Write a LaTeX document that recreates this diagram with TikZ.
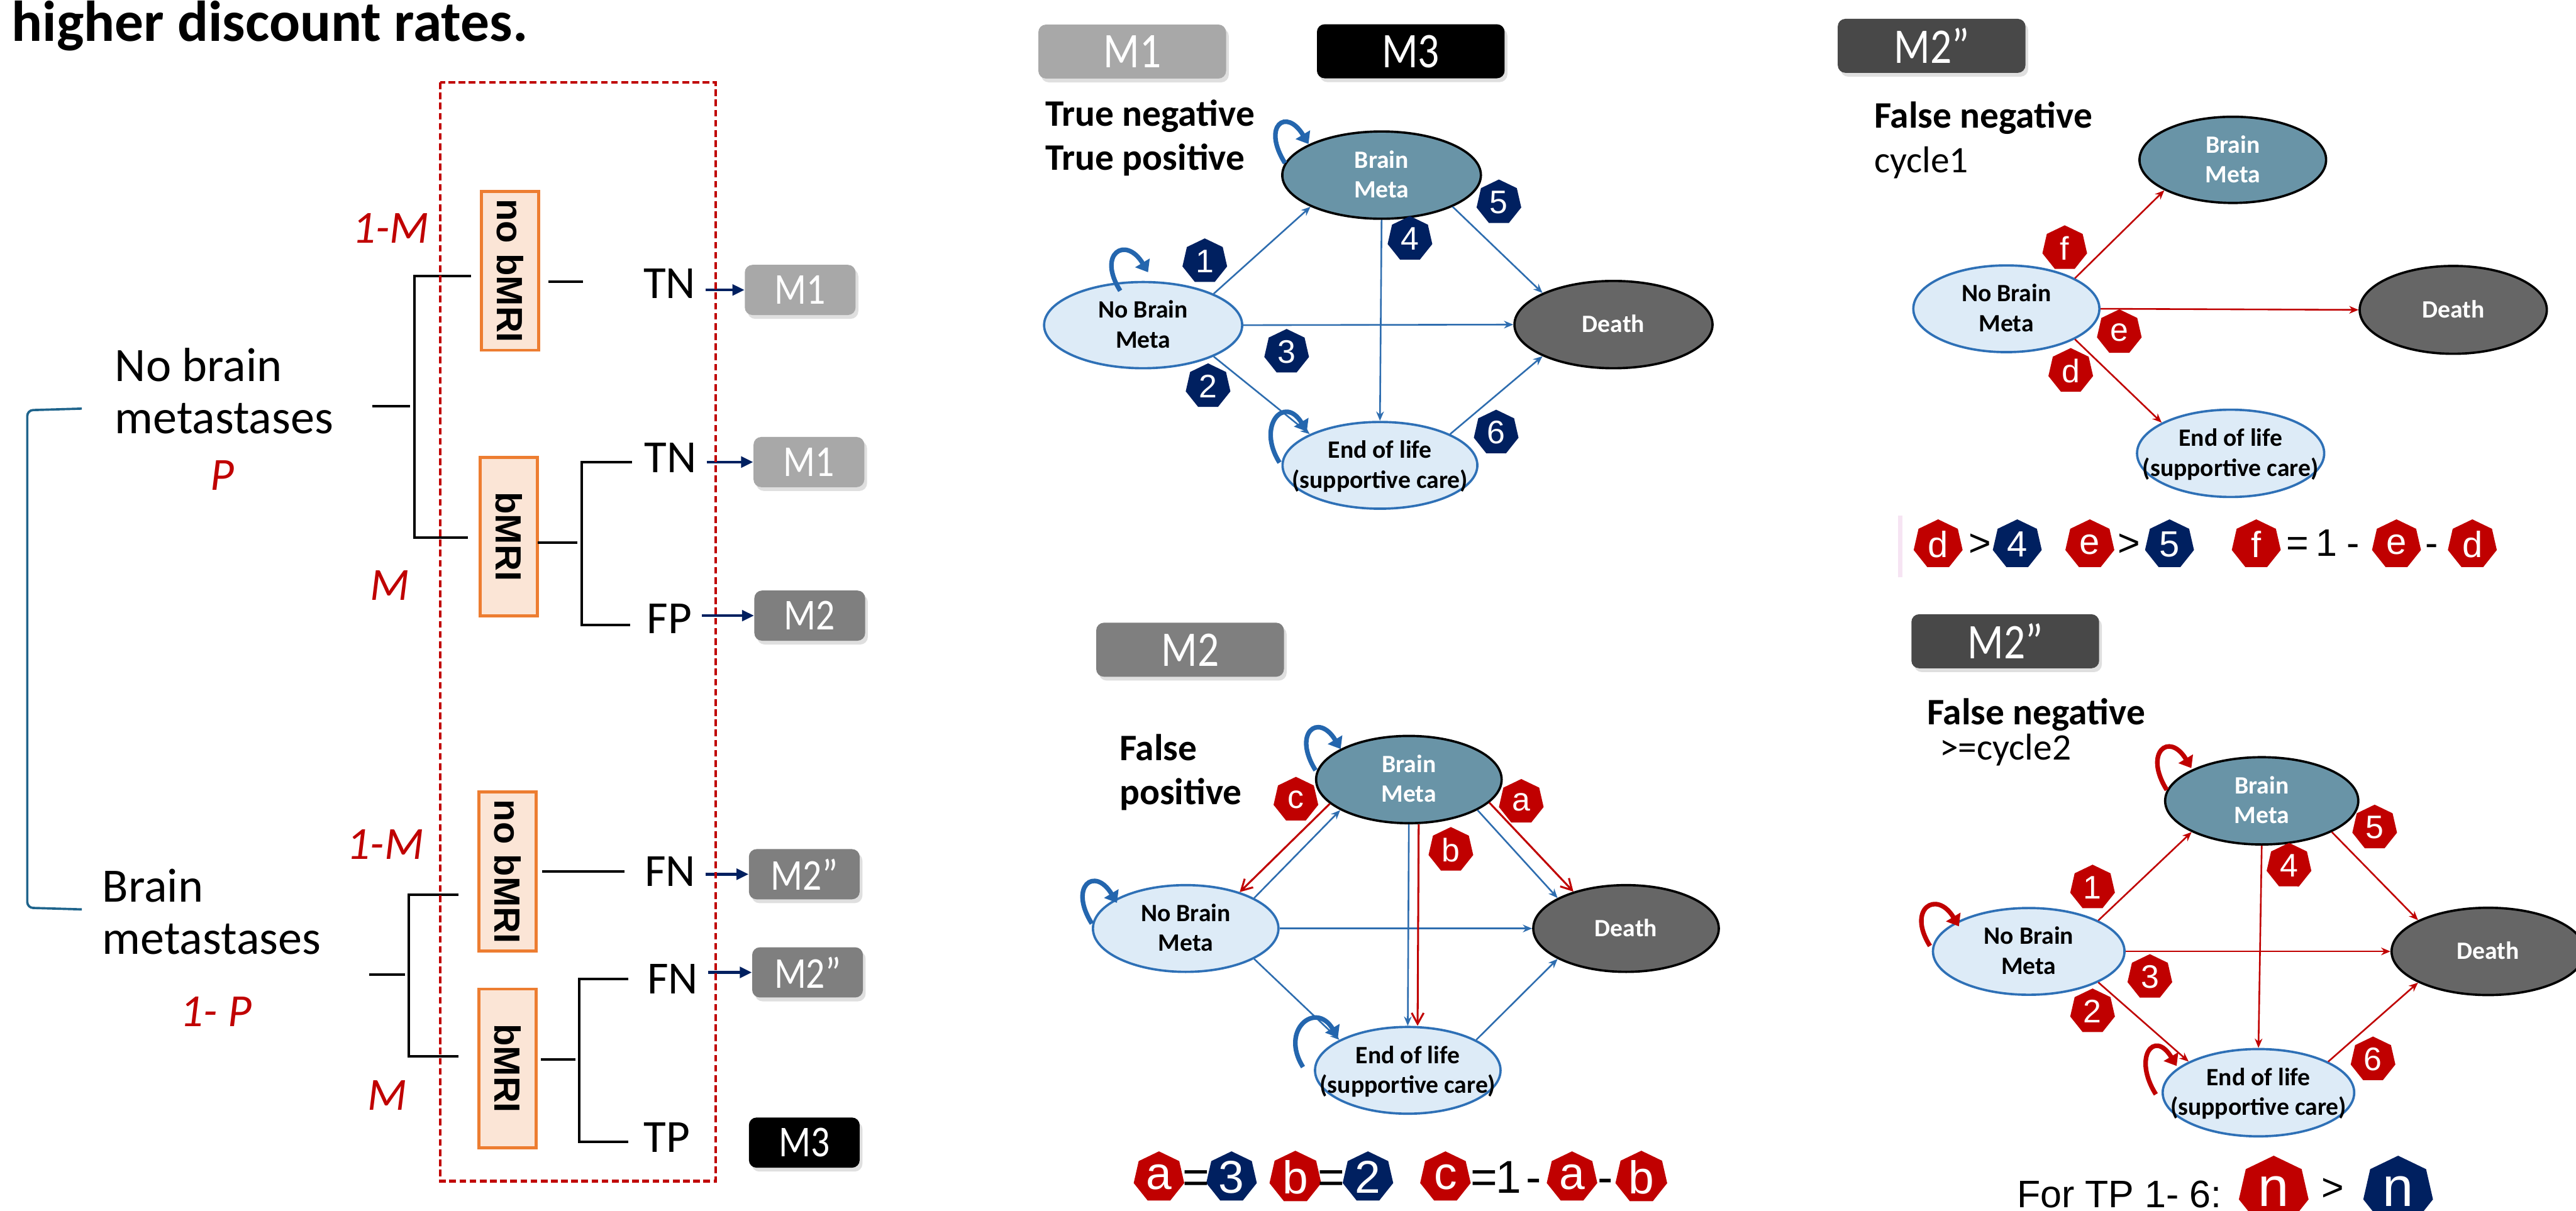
\documentclass[tikz,border=0pt]{standalone}
\usepackage{fontspec}
\setmainfont{Carlito}
\newfontfamily\condfont{Carlito}[FakeStretch=0.85]
\newfontfamily\arialfont{Liberation Sans}
\usetikzlibrary{arrows.meta, positioning, calc, shapes.geometric, shadows}
\definecolor{redC}  {RGB}{192,  0,  0}
\definecolor{navyC} {RGB}{  0, 32, 96}
\definecolor{edgeC} {RGB}{ 46,109,175}
\definecolor{loopC} {RGB}{ 36,102,174}
\definecolor{paleC} {RGB}{221,235,247}
\definecolor{rimC}  {RGB}{ 46,112,182}
\definecolor{steelC}{RGB}{105,148,167}
\definecolor{deathC}{RGB}{102,102,102}
\definecolor{orgC}  {RGB}{237,125, 49}
\definecolor{peachC}{RGB}{251,229,214}
\definecolor{brkC}  {RGB}{ 31,100,140}
\definecolor{lgrayC}{RGB}{168,168,168}
\definecolor{mgrayC}{RGB}{127,127,127}
\definecolor{dgrayC}{RGB}{ 72, 72, 72}
\definecolor{pinkC} {RGB}{246,228,243}
\newcommand\fsz[2]{\fontsize{#1pt}{#2pt}\selectfont}
\newcommand\stackl[1]{\begin{tabular}[t]{@{}l@{}}#1\end{tabular}}
\newcommand\ctext[1]{\smash{\makebox[0pt]{\raisebox{-0.14cm}{\begin{tabular}{@{}c@{}}#1\end{tabular}}}}}
\newcommand\loopat[4]{\draw[selfloop, #1] ($(#2)+(#3)$) .. controls +(-0.43,0.68) and +(-0.41,0.68) .. ($(#2)+(#4)$);}
\tikzset{
  tree/.style    = {line width=1.3pt, black},
  lbl/.style     = {font=\fsz{25}{27.3}, inner sep=0pt},
  treetxt/.style = {font=\fsz{24}{28}, inner xsep=5pt, inner ysep=0pt, anchor=base},
  prob/.style    = {font=\itshape\fsz{24}{28}, text=redC, inner sep=0pt, anchor=base},
  mri/.style     = {draw=orgC, fill=peachC, line width=1.6pt, rotate=-90,
                    minimum width=2.91cm, minimum height=1.05cm, inner sep=0pt,
                    font=\arialfont\bfseries\fsz{19}{22}},
  mbox/.style    = {rounded corners=4pt, text=white, inner sep=0pt,
                    drop shadow={shadow xshift=0.05cm, shadow yshift=-0.07cm, opacity=0.25}},
  smallbox/.style= {mbox, minimum width=2.03cm, minimum height=0.92cm, font=\condfont\fsz{23}{27}},
  bigbox/.style  = {mbox, minimum width=3.44cm, minimum height=0.99cm, font=\condfont\fsz{26}{30}},
  navyarr/.style = {-{Triangle[length=0.22cm, width=0.2cm]}, line width=1.4pt, navyC},
  ell/.style     = {ellipse, inner sep=0pt, line width=1.2pt, font=\bfseries\fsz{13}{15.5}},
  pale/.style    = {ell, draw=rimC, fill=paleC},
  steel/.style   = {ell, draw=black, fill=steelC, text=white},
  dark/.style    = {ell, draw=black, fill=deathC, text=white},
  tr/.style      = {-{Stealth[length=0.17cm, width=0.14cm]}, line width=0.85pt, edgeC},
  trr/.style     = {tr, redC},
  trv/.style     = {-{Straight Barb[length=0.2cm, width=0.22cm]}, line width=1pt, redC},
  selfloop/.style= {-{Triangle[length=0.2cm, width=0.3cm]}, line width=2.4pt},
  hep/.style     = {regular polygon, regular polygon sides=7, inner sep=0pt, text=white,
                    minimum size=0.84cm, font=\arialfont\fsz{17}{20}},
  hepR/.style    = {hep, fill=redC},
  hepN/.style    = {hep, fill=navyC},
  eqhep/.style   = {minimum size=0.95cm, font=\arialfont\fsz{24}{28}},
  eqhepS/.style  = {minimum size=0.92cm, font=\arialfont\fsz{19}{22}},
  eqtxt/.style   = {font=\arialfont\fsz{24}{28}, inner sep=0pt, anchor=base},
  eqtxtS/.style  = {font=\arialfont\fsz{20}{24}, inner sep=0pt, anchor=base},
  hdr/.style     = {font=\fsz{19.5}{23}, inner sep=0pt, anchor=base west},
}

\begin{document}
\begin{tikzpicture}
\useasboundingbox (0,-22.19) rectangle (47.21,0);
\clip (0,-22.19) rectangle (47.21,0);
\fill[white] (0,-22.19) rectangle (47.21,0);

% ---- Decision tree ----------------------------------------------------------
\node[font=\bfseries\fsz{30}{36}, anchor=base west, inner sep=0pt] (title) at (0.21,-0.76)
  {higher discount rates.};

\draw[brkC, line width=1.2pt, rounded corners=3pt]
  (1.50,-7.49) -- (0.50,-7.52) -- (0.50,-16.64) -- (1.50,-16.67);

\node[lbl, anchor=base west] (nobmet) at (2.10,-6.99) {\stackl{No brain\\metastases}};
\node[lbl, anchor=base west] (bmet)   at (1.87,-16.53) {\stackl{Brain\\metastases}};
\node[prob] (pP) at (4.07,-8.99) {P};
\node[prob] (pQ) at (3.96,-18.81) {1- P};

\node[prob] (mA1) at (7.16,-4.45)  {1-M};
\node[prob] (mA2) at (7.14,-11.00) {M};
\node[prob] (mB1) at (7.06,-15.75) {1-M};
\node[prob] (mB2) at (7.10,-20.35) {M};

% testing boxes
\node[mri] (nob1) at (9.345,-4.965)  {no bMRI};
\node[mri] (mri1) at (9.325,-9.835)  {bMRI};
\node[mri] (nob2) at (9.305,-15.975) {no bMRI};
\node[mri] (mri2) at (9.305,-19.585) {bMRI};

% branches
\coordinate (j1) at (7.60,-7.45);
\coordinate (j2) at (10.66,-9.95);
\coordinate (j3) at (7.49,-17.86);
\coordinate (j4) at (10.61,-19.42);
\draw[tree] (6.82,-7.45) -- (7.52,-7.45);
\draw[tree] (8.63,-5.06) -| (j1) |- (8.58,-9.86);
\draw[tree] (10.05,-5.16) -- (10.68,-5.16);
\draw[tree] (9.86,-9.95) -- (10.58,-9.95);
\draw[tree] (11.58,-8.47) -| (j2) |- (11.55,-11.46);
\draw[tree] (6.76,-17.86) -- (7.42,-17.86);
\draw[tree] (8.40,-16.40) -| (j3) |- (8.40,-19.36);
\draw[tree] (9.94,-15.97) -- (11.45,-15.97);
\draw[tree] (9.91,-19.42) -- (10.55,-19.42);
\draw[tree] (11.52,-17.94) -| (j4) |- (11.52,-20.93);

% outcomes
\node[treetxt] (tn1) at (12.27,-5.47)  {TN};
\node[treetxt] (tn2) at (12.29,-8.66)  {TN};
\node[treetxt] (fp)  at (12.27,-11.61) {FP};
\node[treetxt] (fn1) at (12.28,-16.24) {FN};
\node[treetxt] (fn2) at (12.33,-18.22) {FN};
\node[treetxt] (tp)  at (12.22,-21.12) {TP};

\node[smallbox, fill=lgrayC] (m1a)  at (14.665,-5.315) {M1};
\node[smallbox, fill=lgrayC] (m1b)  at (14.825,-8.47)  {M1};
\node[smallbox, fill=mgrayC] (m2a)  at (14.84,-11.285) {M2};
\node[smallbox, fill=mgrayC] (m2qa) at (14.74,-16.025) {M2”};
\node[smallbox, fill=mgrayC] (m2qb) at (14.80,-17.825) {M2”};
\node[smallbox, fill=black]  (m3a)  at (14.74,-20.945) {M3};

\foreach \s/\t in {tn1/m1a, tn2/m1b, fp/m2a, fn1/m2qa, fn2/m2qb}
  \draw[navyarr] (\s.east |- \t.west) -- (\t.west);

\draw[redC, line width=1.4pt, dash pattern=on 3.5pt off 1.8pt] (8.07,-1.51) rectangle (13.12,-21.65);

% ---- M1 / M3 ----------------------------------------------------------------
\node[bigbox, fill=lgrayC] (m1t) at (20.75,-0.945) {M1};
\node[bigbox, fill=black]  (m3t) at (25.855,-0.94) {M3};
\node[hdr] (hA) at (19.15,-2.31) {\bfseries\stackl{True negative\\True positive}};

\node[pale,  minimum width=3.63cm, minimum height=1.58cm] (nbmA) at (20.95,-5.96) {\ctext{No Brain\\Meta}};
\node[steel, minimum width=3.64cm, minimum height=1.60cm] (bmA)  at (25.32,-3.21) {\ctext{Brain\\Meta}};
\node[dark,  minimum width=3.63cm, minimum height=1.60cm] (dthA) at (29.57,-5.95) {\ctext{Death}};
\node[pale,  minimum width=3.57cm, minimum height=1.59cm] (eolA) at (25.29,-8.53) {\ctext{End of life\\(supportive care)}};

\draw[tr] (nbmA.24)   -- (bmA.204);
\draw[tr] (nbmA.east) -- (dthA.west);
\draw[tr] (nbmA.336)  -- (eolA.156);
\draw[tr] (bmA.south) -- (eolA.north);
\draw[tr] (bmA.336)   -- (dthA.156);
\draw[tr] (eolA.24)   -- (dthA.204);

\loopat{loopC}{bmA}{-1.77,0.22}{-1.34,0.57}
\loopat{loopC}{nbmA}{-0.42,0.63}{0.09,0.97}
\loopat{loopC}{eolA}{-1.84,0.05}{-1.34,0.62}

\foreach \n/\x/\y in {1/22.08/-4.79, 2/22.14/-7.08, 3/23.58/-6.45,
                      4/25.84/-4.38, 5/27.47/-3.71, 6/27.42/-7.93}
  \node[hepN] (bA\n) at (\x,\y) {\n};

% ---- M2 ---------------------------------------------------------------------
\node[bigbox, fill=mgrayC] (m2t) at (21.81,-11.91) {M2};
\node[hdr] (hB) at (20.51,-13.94) {\bfseries\stackl{False\\positive}};

\node[pale,  minimum width=3.40cm, minimum height=1.59cm] (nbmB) at (21.73,-17.02) {\ctext{No Brain\\Meta}};
\node[steel, minimum width=3.40cm, minimum height=1.60cm] (bmB)  at (25.82,-14.29) {\ctext{Brain\\Meta}};
\node[dark,  minimum width=3.40cm, minimum height=1.59cm] (dthB) at (29.80,-17.02) {\ctext{Death}};
\node[pale,  minimum width=3.40cm, minimum height=1.59cm] (eolB) at (25.80,-19.62) {\ctext{End of life\\(supportive care)}};

\draw[tr] (nbmB.24)   -- (bmB.204);
\draw[tr] (nbmB.east) -- (dthB.west);
\draw[tr] (nbmB.336)  -- (eolB.156);
\draw[tr] (bmB.south) -- (eolB.north);
\draw[tr] (bmB.336)   -- (dthB.156);
\draw[tr] (eolB.24)   -- (dthB.204);

\draw[trv] (bmB.197) -- (nbmB.34);
\draw[trv] ([xshift=0.18cm]bmB.south) -- ([xshift=0.18cm]eolB.north);
\draw[trv] (bmB.344) -- (dthB.145);

\loopat{loopC}{bmB}{-1.71,0.17}{-1.25,0.56}
\loopat{loopC}{nbmB}{-1.72,0.09}{-1.26,0.47}
\loopat{loopC}{eolB}{-1.92,0.06}{-1.28,0.60}

\node[hepR] (bBc) at (23.75,-14.66) {c};
\node[hepR] (bBa) at (27.88,-14.70) {a};
\node[hepR] (bBb) at (26.59,-15.58) {b};

% a = 3, b = 2, c = 1 - a - b
\node[hepR, eqhep] (qB1) at (21.24,-21.58) {a};
\node[hepN, eqhep] (qB2) at (22.57,-21.58) {3};
\node[hepR, eqhep] (qB3) at (23.74,-21.58) {b};
\node[hepN, eqhep] (qB4) at (25.07,-21.58) {2};
\node[hepR, eqhep] (qB5) at (26.49,-21.58) {c};
\node[hepR, eqhep] (qB6) at (28.81,-21.58) {a};
\node[hepR, eqhep] (qB7) at (30.08,-21.58) {b};
\foreach \x/\s [count=\i] in {21.92/=, 24.40/=, 27.20/=, 27.65/1, 28.11/-, 29.42/-}
  \node[eqtxt] (sB\i) at (\x,-21.87) {\s};

% ---- M2'' cycle 1 -------------------------------------------------------------
\node[bigbox, fill=dgrayC] (m2qt) at (35.40,-0.84) {M2”};
\node[hdr] (hC) at (34.34,-2.35) {\stackl{\bfseries False negative\\cycle1}};

\node[pale,  minimum width=3.41cm, minimum height=1.59cm] (nbmC) at (36.77,-5.66) {\ctext{No Brain\\Meta}};
\node[steel, minimum width=3.42cm, minimum height=1.58cm] (bmC)  at (40.92,-2.93) {\ctext{Brain\\Meta}};
\node[dark,  minimum width=3.43cm, minimum height=1.61cm] (dthC) at (44.96,-5.68) {\ctext{Death}};
\node[pale,  minimum width=3.43cm, minimum height=1.60cm] (eolC) at (40.88,-8.31) {\ctext{End of life\\(supportive care)}};

\draw[trr] (nbmC.24)   -- (bmC.204);
\draw[trr] (nbmC.east) -- (dthC.west);
\draw[trr] (nbmC.336)  -- (eolC.156);

\node[hepR] (bCf) at (37.84,-4.55) {f};
\node[hepR] (bCe) at (38.84,-6.09) {e};
\node[hepR] (bCd) at (37.95,-6.80) {d};

% d > 4, e > 5, f = 1 - e - d
\fill[pinkC] (34.78,-9.45) rectangle (34.87,-10.58);
\node[hepR, eqhepS] (qC1) at (35.52,-9.98) {d};
\node[hepN, eqhepS] (qC2) at (36.97,-9.98) {4};
\node[hepR, eqhepS] (qC3) at (38.30,-9.98) {e};
\node[hepN, eqhepS] (qC4) at (39.76,-9.98) {5};
\node[hepR, eqhepS] (qC5) at (41.35,-9.98) {f};
\node[hepR, eqhepS] (qC6) at (43.92,-9.98) {e};
\node[hepR, eqhepS] (qC7) at (45.31,-9.98) {d};
\foreach \x/\s [count=\i] in {36.29/>, 39.02/>, 42.11/=, 42.64/1, 43.13/-, 44.57/-}
  \node[eqtxtS] (sC\i) at (\x,-10.20) {\s};

% ---- M2'' cycle >= 2 ----------------------------------------------------------
\node[bigbox, fill=dgrayC] (m2qb2) at (36.75,-11.755) {M2”};
\node[hdr] (hD)  at (35.31,-13.28) {\bfseries False negative};
\node[hdr] (hD2) at (35.54,-13.93) {>=cycle2};

\node[pale,  minimum width=3.51cm, minimum height=1.59cm] (nbmD) at (37.18,-17.44) {\ctext{No Brain\\Meta}};
\node[steel, minimum width=3.54cm, minimum height=1.60cm] (bmD)  at (41.45,-14.68) {\ctext{Brain\\Meta}};
\node[dark,  minimum width=3.54cm, minimum height=1.60cm] (dthD) at (45.60,-17.44) {\ctext{Death}};
\node[pale,  minimum width=3.51cm, minimum height=1.60cm] (eolD) at (41.39,-20.03) {\ctext{End of life\\(supportive care)}};

\draw[trr] (nbmD.24)   -- (bmD.204);
\draw[trr] (nbmD.east) -- (dthD.west);
\draw[trr] (nbmD.336)  -- (eolD.156);
\draw[trr] (bmD.south) -- (eolD.north);
\draw[trr] (bmD.336)   -- (dthD.156);
\draw[trr] (eolD.24)   -- (dthD.204);

\loopat{redC}{bmD}{-1.74,0.20}{-1.29,0.60}
\loopat{redC}{nbmD}{-1.81,0.10}{-1.28,0.46}
\loopat{redC}{eolD}{-1.88,-0.03}{-1.50,0.49}

\foreach \n/\x/\y in {1/38.35/-16.27, 2/38.35/-18.54, 3/39.40/-17.91,
                      4/41.95/-15.87, 5/43.52/-15.17, 6/43.49/-19.42}
  \node[hepR] (bD\n) at (\x,\y) {\n};

\node[font=\arialfont\fsz{20}{24}, inner sep=0pt, anchor=base west] (tp16) at (36.96,-22.13) {For TP 1- 6:};
\node[hepR, minimum size=1.31cm, font=\arialfont\fsz{29}{32}] (nR) at (41.67,-21.84) {n};
\node[font=\arialfont\fsz{20}{24}, inner sep=0pt] (gt) at (42.75,-21.80) {>};
\node[hepN, minimum size=1.31cm, font=\arialfont\fsz{29}{32}] (nN) at (43.95,-21.84) {n};

\end{tikzpicture}
\end{document}
